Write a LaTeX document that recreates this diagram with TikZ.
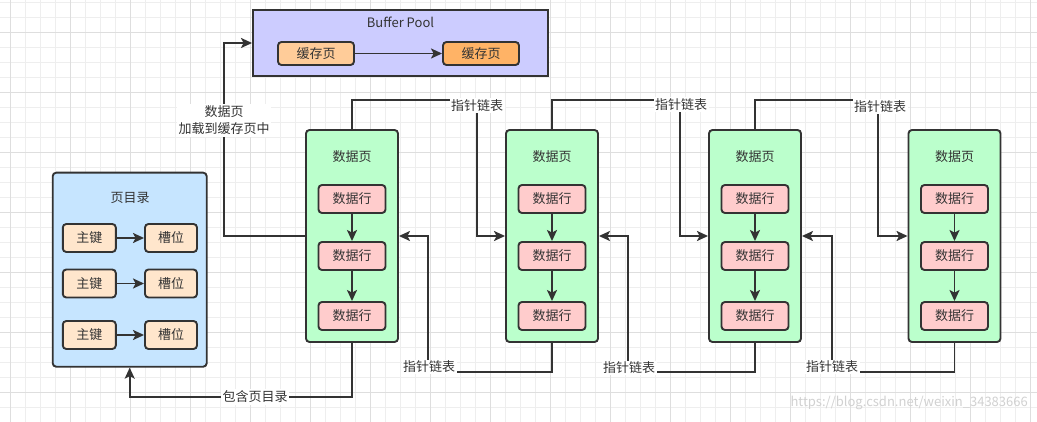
\documentclass[tikz,border=0pt]{standalone}
\usepackage{fontspec}
\setmainfont{Noto Sans CJK SC}
\usetikzlibrary{arrows.meta}
\definecolor{ln}{HTML}{333333}
\definecolor{tx}{HTML}{333333}
\definecolor{pg}{HTML}{BBFFCC}
\definecolor{rw}{HTML}{FFCCCC}
\definecolor{dr}{HTML}{C6E5FF}
\definecolor{bpc}{HTML}{CCCCFF}
\definecolor{ca}{HTML}{FFCC99}
\definecolor{cb}{HTML}{FFB366}
\definecolor{ky}{HTML}{FFE6CC}
\definecolor{gmin}{HTML}{EEEEEE}
\definecolor{gmaj}{HTML}{DEDEDE}
\tikzset{
  box/.style={draw=ln, line width=1.9pt, rounded corners=3.5pt, inner sep=0pt, text=tx, font=\fontsize{13}{15}\selectfont},
  pagebox/.style={box, fill=pg, minimum width=92pt, minimum height=212pt},
  rowbox/.style={box, fill=rw, minimum width=67pt, minimum height=28pt},
  keybox/.style={box, fill=ky, minimum width=53pt, minimum height=28pt},
  cachebox/.style={box, minimum width=76pt, minimum height=23pt},
  txt/.style={text=tx, font=\fontsize{13}{15}\selectfont, inner sep=0pt},
  lbl/.style={text=tx, font=\fontsize{13}{17}\selectfont, fill=white, inner sep=1.5pt, align=center},
  arr/.style={draw=ln, line width=1.8pt, -{Stealth[length=11pt,width=10pt,inset=2.5pt]}},
  conn/.style={draw=ln, line width=1.8pt}
}
\begin{document}
\begin{tikzpicture}[x=1pt,y=-1pt]
\useasboundingbox (0,0) rectangle (1037,422);
\fill[white] (0,0) rectangle (1037,422);
% grid
\foreach \i in {0,...,68} {
  \pgfmathsetmacro\xx{10+15*\i}
  \draw[gmin, line width=0.8pt] (\xx,0) -- (\xx,422);
}
\foreach \i in {0,...,28} {
  \pgfmathsetmacro\yy{2+15*\i}
  \draw[gmin, line width=0.8pt] (0,\yy) -- (1037,\yy);
}
\foreach \i in {0,...,17} {
  \pgfmathsetmacro\xx{10+60*\i}
  \draw[gmaj, line width=0.9pt] (\xx,0) -- (\xx,422);
}
\foreach \i in {0,...,6} {
  \pgfmathsetmacro\yy{32+60*\i}
  \draw[gmaj, line width=0.9pt] (0,\yy) -- (1037,\yy);
}

% Buffer pool
\node[box, fill=bpc, rounded corners=0pt, minimum width=295pt, minimum height=66pt] (bp) at (400.5,43) {};
\node[txt] (bpt) at (400.5,22) {Buffer Pool};
\node[cachebox, fill=ca] (c1) at (316,53.5) {缓存页};
\node[cachebox, fill=cb] (c2) at (481,53.5) {缓存页};
\draw[arr] (c1) -- (c2);

% page directory
\node[box, fill=dr, minimum width=154pt, minimum height=194pt] (dir) at (129.7,269.7) {};
\node[txt] (dirt) at (130,198) {页目录};
\foreach \r/\y in {1/238,2/283.5,3/335} {
  \node[keybox] (k\r) at (89.3,\y) {主键};
  \node[keybox, minimum width=52pt] (s\r) at (171,\y) {槽位};
  \draw[arr] (k\r) -- (s\r);
}

% data pages
\foreach \p/\x in {1/352,2/552,3/755,4/954.5} {
  \node[pagebox] (p\p) at (\x,236) {};
  \node[txt] (p\p t) at (\x,157) {数据页};
  \node[rowbox] (p\p r1) at (\x,199) {数据行};
  \node[rowbox] (p\p r2) at (\x,256) {数据行};
  \node[rowbox] (p\p r3) at (\x,316) {数据行};
  \draw[arr] (p\p r1) -- (p\p r2);
  \draw[arr] (p\p r2) -- (p\p r3);
}

% load into buffer pool
\draw[arr] (p1.west) -- (224,236) |- (bp.west);
\node[lbl] (l0) at (224,120.5) {数据页\\加载到缓存页中};

% top links
\draw[arr] (p1.north) |- (477,100) -- (477,236) -- (p2.west);
\node[lbl] (lt1) at (477,106) {指针链表};
\draw[arr] (p2.north) |- (680,100) -- (680,236) -- (p3.west);
\node[lbl] (lt2) at (681,104.5) {指针链表};
\draw[arr] (p3.north) |- (878,100) -- (878,236) -- (p4.west);
\node[lbl] (lt3) at (880,107) {指针链表};

% bottom links
\draw[arr] (p2.south) |- (428,372) -- (428,236) -- (p1.east);
\node[lbl] (lb1) at (429,367) {指针链表};
\draw[arr] (p3.south) |- (628,372) -- (628,236) -- (p2.east);
\node[lbl] (lb2) at (629,368) {指针链表};
\draw[arr] (p4.south) |- (832,372) -- (832,236) -- (p3.east);
\node[lbl] (lb3) at (832,367) {指针链表};

% contains page directory
\draw[arr] (p1.south) |- (129.7,397) -- (dir.south);
\node[lbl] (ld) at (255,397) {包含页目录};

% watermark
\node[text=black!18, font=\fontsize{13}{15}\selectfont, inner sep=0pt, anchor=east] (wm) at (1028,403) {https://blog.csdn.net/weixin\_34383666};
\end{tikzpicture}
\end{document}
